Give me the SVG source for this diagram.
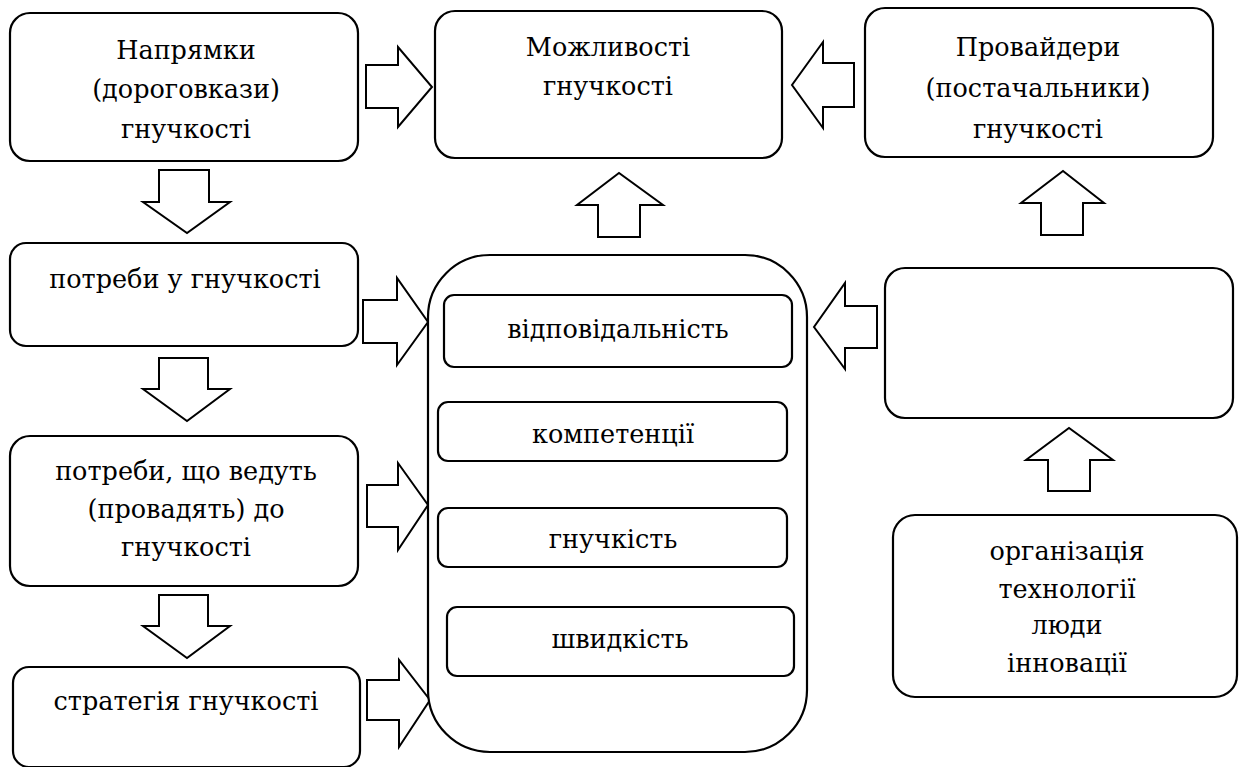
<svg xmlns="http://www.w3.org/2000/svg" width="1239" height="767" viewBox="0 0 1239 767">
<style>
.box{fill:#fff;stroke:#000;stroke-width:2.2}
.arr{fill:#fff;stroke:#000;stroke-width:2;stroke-linejoin:miter}
text{font-family:"DejaVu Serif","Liberation Serif",serif;font-size:25.5px;fill:#000;text-anchor:middle}
</style>
<rect width="1239" height="767" fill="#fff"/>
<g id="connectors">
<polygon class="arr" points="366,65 398,65 398,47 432,87 398,127 398,108 366,108"/>
<polygon class="arr" points="854,63 823,63 823,42 792,85 823,128 823,107 854,107"/>
<polygon class="arr" points="598,237 598,205 577,205 619,173 663,205 640,205 640,237"/>
<polygon class="arr" points="1041,235 1041,203 1021,203 1063,171 1104,203 1083,203 1083,235"/>
<polygon class="arr" points="159,170 209,170 209,202 230,202 187,233 143,202 159,202"/>
<polygon class="arr" points="363,300 397,300 397,278 428,322 397,365 397,343 363,343"/>
<polygon class="arr" points="159,358 208,358 208,389 230,389 187,421 143,389 159,389"/>
<polygon class="arr" points="367,485 398,485 398,463 428,505 398,550 398,527 367,527"/>
<polygon class="arr" points="159,595 208,595 208,626 230,626 187,658 143,626 159,626"/>
<polygon class="arr" points="367,680 399,680 399,660 430,700 399,747 399,720 367,720"/>
<polygon class="arr" points="877,306 845,306 845,283 814,327 845,369 845,348 877,348"/>
<polygon class="arr" points="1048,491 1048,460 1026,460 1069,428 1113,460 1090,460 1090,491"/>
</g>
<g id="n1">
<rect class="box" x="10" y="13" width="348" height="148" rx="20"/>
<text x="186" y="59">Напрямки</text>
<text x="186" y="98">(дороговкази)</text>
<text x="186" y="138">гнучкості</text>
</g>
<g id="n2">
<rect class="box" x="435" y="11" width="347" height="147" rx="20"/>
<text x="608" y="56">Можливості</text>
<text x="608" y="95">гнучкості</text>
</g>
<g id="n3">
<rect class="box" x="865" y="8" width="348" height="149" rx="20"/>
<text x="1038" y="56">Провайдери</text>
<text x="1038" y="97">(постачальники)</text>
<text x="1038" y="138">гнучкості</text>
</g>
<g id="n4">
<rect class="box" x="10" y="243" width="348" height="103" rx="16"/>
<text x="185" y="288">потреби у гнучкості</text>
</g>
<g id="n5">
<rect class="box" x="10" y="436" width="348" height="150" rx="20"/>
<text x="186" y="480">потреби, що ведуть</text>
<text x="186" y="518">(провадять) до</text>
<text x="186" y="556">гнучкості</text>
</g>
<g id="n6">
<rect class="box" x="13" y="667" width="347" height="100" rx="16"/>
<text x="186" y="710">стратегія гнучкості</text>
</g>
<g id="n7">
<rect class="box" x="428" y="255" width="379" height="497" rx="62"/>
</g>
<g id="n7a">
<rect class="box" x="444" y="295" width="348" height="72" rx="10"/>
<text x="618" y="338">відповідальність</text>
</g>
<g id="n7b">
<rect class="box" x="438" y="402" width="349" height="59" rx="10"/>
<text x="613" y="443">компетенції</text>
</g>
<g id="n7c">
<rect class="box" x="438" y="508" width="349" height="59" rx="10"/>
<text x="613" y="548">гнучкість</text>
</g>
<g id="n7d">
<rect class="box" x="447" y="607" width="347" height="69" rx="10"/>
<text x="620" y="648">швидкість</text>
</g>
<g id="n8">
<rect class="box" x="885" y="268" width="348" height="150" rx="20"/>
</g>
<g id="n9">
<rect class="box" x="893" y="515" width="344" height="182" rx="22"/>
<text x="1067" y="560">організація</text>
<text x="1067" y="598">технології</text>
<text x="1067" y="634">люди</text>
<text x="1067" y="672">інновації</text>
</g>
</svg>
